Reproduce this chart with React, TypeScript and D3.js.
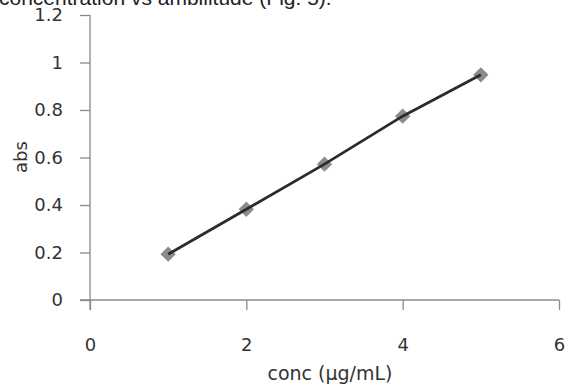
import React, { useEffect, useRef } from 'react';
import * as d3 from 'd3';

const concValues = [1, 2, 3, 4, 5];
const absValues = [0.193, 0.382, 0.572, 0.774, 0.948];
const xTicks = [0, 2, 4, 6];
const yTicks = [0, 0.2, 0.4, 0.6, 0.8, 1, 1.2];
const titleText = 'concentration vs ambilitude (Fig. 5).';

const W = 567;
const H = 385;

export default function App() {
  const svgRef = useRef<SVGSVGElement>(null);

  useEffect(() => {
    if (!svgRef.current) return;
    const svg = d3.select(svgRef.current);
    svg.selectAll('*').remove();

    const x = d3.scaleLinear().domain([0, 6]).range([90, 559]);
    const y = d3.scaleLinear().domain([0, 1.2]).range([300, 15]);
    const font = "'DejaVu Sans', sans-serif";
    const axisColor = '#8a8a8a';
    const textColor = '#333';

    // caption cut off by the top edge
    svg.append('text')
      .attr('x', -1)
      .attr('y', 5)
      .attr('font-family', "'Liberation Sans', Arial, sans-serif")
      .attr('font-size', 21)
      .attr('fill', '#222')
      .text(titleText);

    // y axis
    const yAxis = svg.append('g')
      .attr('transform', `translate(${x(0)},0)`)
      .call(d3.axisLeft(y).tickValues(yTicks).tickSize(10).tickPadding(17)
        .tickFormat(d => String(d)));
    yAxis.select('.domain').attr('stroke', axisColor).attr('stroke-width', 1.3)
      .attr('d', `M0,${y(1.2)}V${y(0) + 10}`);
    yAxis.selectAll('line').attr('stroke', axisColor).attr('stroke-width', 1.3);
    yAxis.selectAll('text')
      .attr('font-family', font)
      .attr('font-size', 18)
      .attr('fill', textColor);

    // x axis
    const xAxis = svg.append('g')
      .attr('transform', `translate(0,${y(0)})`)
      .call(d3.axisBottom(x).tickValues(xTicks).tickSize(10).tickPadding(28)
        .tickFormat(d => String(d)));
    xAxis.select('.domain').attr('stroke', axisColor).attr('stroke-width', 1.3)
      .attr('d', `M${x(0) - 10},0H${x(6)}`);
    xAxis.selectAll('line').attr('stroke', axisColor).attr('stroke-width', 1.3);
    xAxis.selectAll('text')
      .attr('font-family', font)
      .attr('font-size', 18)
      .attr('fill', textColor);

    // axis titles
    svg.append('text')
      .attr('x', 330)
      .attr('y', 380)
      .attr('text-anchor', 'middle')
      .attr('font-family', font)
      .attr('font-size', 19)
      .attr('fill', textColor)
      .text('conc (µg/mL)');

    svg.append('text')
      .attr('transform', 'translate(27,157) rotate(-90)')
      .attr('text-anchor', 'middle')
      .attr('font-family', font)
      .attr('font-size', 18)
      .attr('fill', textColor)
      .text('abs');

    const pts = concValues.map((c, i) => ({ c, a: absValues[i] }));

    // markers
    svg.append('g')
      .selectAll('path')
      .data(pts)
      .join('path')
      .attr('transform', d => `translate(${x(d.c)},${y(d.a)})`)
      .attr('d', d3.symbol(d3.symbolDiamond2, 150)())
      .attr('fill', '#8c8c8c');

    // series line
    const line = d3.line<{ c: number; a: number }>()
      .x(d => x(d.c))
      .y(d => y(d.a));
    svg.append('path')
      .datum(pts)
      .attr('fill', 'none')
      .attr('stroke', '#2b2b2b')
      .attr('stroke-width', 2.8)
      .attr('d', line);
  }, []);

  return (
    <svg
      ref={svgRef}
      width={W}
      height={H}
      style={{ position: 'absolute', left: 0, top: 0, background: '#fff' }}
    />
  );
}
